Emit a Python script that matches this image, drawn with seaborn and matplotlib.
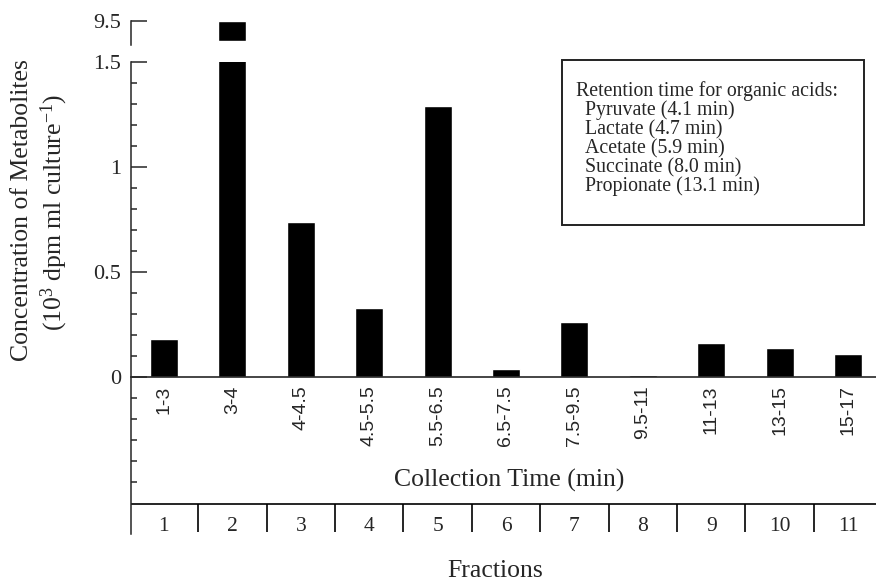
import matplotlib
matplotlib.use("Agg")
import matplotlib.pyplot as plt
import seaborn as sns
import numpy as np
import pandas as pd
from matplotlib.patches import Rectangle
from matplotlib.ticker import FixedLocator

# collection windows (min) and metabolite concentration (10^3 dpm/ml culture)
times = ["1-3", "3-4", "4-4.5", "4.5-5.5", "5.5-6.5", "6.5-7.5",
         "7.5-9.5", "9.5-11", "11-13", "13-15", "15-17"]
conc = [0.18, 9.5, 0.74, 0.33, 1.29, 0.04, 0.26, 0.01, 0.16, 0.14, 0.11]
fractions = list(range(1, 12))
acids = ["Pyruvate", "Lactate", "Acetate", "Succinate", "Propionate"]
ret_times = [4.1, 4.7, 5.9, 8.0, 13.1]

sns.set_style("ticks")
plt.rcParams['font.family'] = ['Liberation Serif', 'DejaVu Serif']
plt.rcParams['mathtext.fontset'] = 'custom'
plt.rcParams['mathtext.rm'] = 'Liberation Serif'
plt.rcParams['mathtext.it'] = 'Liberation Serif:italic'
plt.rcParams['axes.linewidth'] = 1.1

W, H = 876, 582
fig = plt.figure(figsize=(W / 100, H / 100), dpi=100)


def box(l, t, r, b):
    return [l / W, 1 - b / H, (r - l) / W, (b - t) / H]


def ftext(x, y, s, **kw):
    fig.text(x / W, 1 - y / H, s, **kw)


df = pd.DataFrame({"time": times, "conc": conc})
XLIM = (-0.482, 10.41)

# lower (main) part of broken axis
ax = fig.add_axes(box(131, 62, 876, 534))
sns.barplot(data=df, x="time", y="conc", color="black", saturation=1,
            width=0.41, ax=ax)
ax.set_xlim(*XLIM)
ax.set_ylim(-0.748, 1.5)
ax.set_xlabel("")
ax.set_ylabel("")
ax.spines['top'].set_visible(False)
ax.spines['right'].set_visible(False)
ax.spines['bottom'].set_position(('data', 0))
ax.spines['bottom'].set_linewidth(1.2)
ax.spines['left'].set_bounds(-0.748, 1.5)
ax.set_xticks(range(len(times)))
ax.set_xticklabels(times, rotation=90, fontfamily='Liberation Sans', fontsize=14)
ax.tick_params(axis='x', length=0, pad=6)
ax.set_yticks([0, 0.5, 1, 1.5])
ax.set_yticklabels(["0", "0.5", "1", "1.5"])
ax.yaxis.set_minor_locator(FixedLocator(np.round(np.arange(-0.5, 1.51, 0.1), 2)))
ax.tick_params(axis='y', which='major', direction='in', length=11.5, width=1.1,
               labelsize=16, pad=7)
ax.tick_params(axis='y', which='minor', direction='in', length=4.3, width=1.1)

# fraction row
ax.axhline(-0.605, color='black', lw=1.2)
ax.vlines(np.arange(len(fractions) - 1) + 0.5, -0.74, -0.605, color='black', lw=1.2)
for i, f in enumerate(fractions):
    ax.text(i, -0.713, str(f), ha='center', va='center', fontsize=15.5)

# upper part of broken axis
ax2 = fig.add_axes(box(131, 20, 876, 45))
sns.barplot(data=df, x="time", y="conc", color="black", saturation=1,
            width=0.41, ax=ax2)
ax2.set_xlim(*XLIM)
ax2.set_ylim(9.388, 9.507)
ax2.patch.set_alpha(0)
ax2.set_xlabel("")
ax2.set_ylabel("")
for s in ['top', 'right', 'bottom']:
    ax2.spines[s].set_visible(False)
ax2.spines['left'].set_bounds(9.388, 9.5)
ax2.set_xticks([])
ax2.set_yticks([9.5])
ax2.set_yticklabels(["9.5"])
ax2.tick_params(axis='y', direction='in', length=11.5, width=1.1, labelsize=16, pad=7)
ax2.axhspan(9.388, 9.407, color='white', zorder=1.5)

# axis titles
ftext(22, 210, "Concentration of Metabolites", rotation=90, ha='center', va='center',
      fontsize=18.5)
ftext(54, 212, r"(10$^{3}$ dpm ml culture$^{-1}$)", rotation=90, ha='center',
      va='center', fontsize=18.5)
ftext(509, 480, "Collection Time (min)", ha='center', va='center', fontsize=18.5)
ftext(495, 571, "Fractions", ha='center', va='center', fontsize=18.5)

# retention time box
fig.add_artist(Rectangle((562 / W, 1 - 225 / H), (864 - 562) / W, (225 - 60) / H,
                         transform=fig.transFigure, fill=False, lw=1.4, ec='#222222'))
ftext(576, 96, "Retention time for organic acids:", ha='left', va='baseline',
      fontsize=14.3)
for k, (a, t) in enumerate(zip(acids, ret_times)):
    ftext(585, 115 + 19 * k, f"{a} ({t:.1f} min)", ha='left', va='baseline',
          fontsize=14.3)

fig.savefig("out.png", dpi=100)
